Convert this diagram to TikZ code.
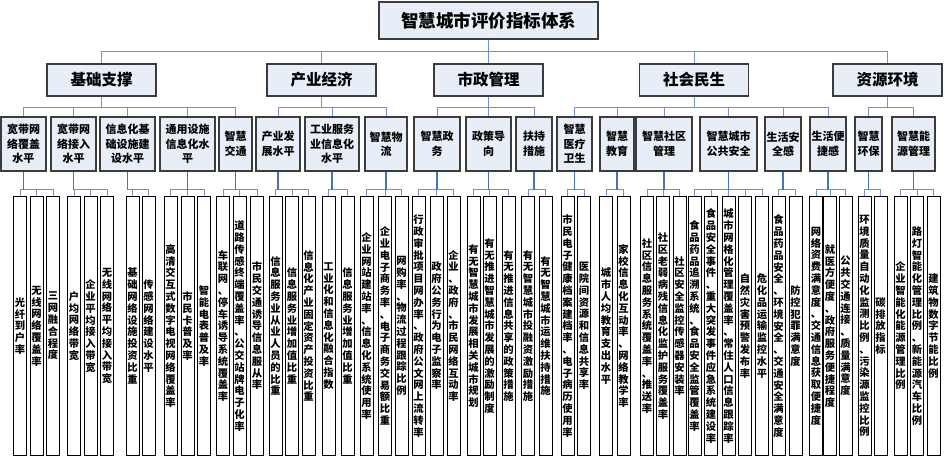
\documentclass[tikz,border=0pt]{standalone}
\usepackage{fontspec}
\newfontfamily\cjk{Noto Sans CJK SC}
\ExplSyntaxOn
\NewDocumentCommand\vt{m}{
  \seq_clear:N \l_tmpa_seq
  \tl_map_inline:nn {#1} { \seq_put_right:Nn \l_tmpa_seq {##1} }
  \seq_use:Nn \l_tmpa_seq {\\}
}
\ExplSyntaxOff
\definecolor{boxfill}{RGB}{232,238,247}
\definecolor{boxline}{RGB}{60,60,60}
\definecolor{conn}{RGB}{70,118,185}
\definecolor{connlight}{RGB}{105,150,210}
\tikzset{
  rootbox/.style={draw=boxline, fill=boxfill, line width=1.1pt, inner sep=0pt,
    minimum width=219pt, minimum height=37pt,
    font=\cjk\bfseries\fontsize{17.5}{20}\selectfont},
  lonebox/.style={draw=boxline, fill=boxfill, line width=1.1pt, inner sep=0pt,
    minimum width=109pt, minimum height=32pt,
    font=\cjk\bfseries\fontsize{15.5}{18}\selectfont},
  ltwobox/.style={draw=boxline, fill=boxfill, line width=1.1pt, inner sep=0pt,
    minimum height=54pt, align=center,
    font=\cjk\bfseries\fontsize{11}{14.5}\selectfont},
  leafbox/.style={draw=black, fill=white, line width=1pt, inner sep=0pt,
    minimum width=13pt, minimum height=258pt, align=center,
    font=\cjk\bfseries\fontsize{10.3}{11.8}\selectfont},
  thinconn/.style={draw=connlight, line width=0.9pt},
  trunk/.style={draw=conn, line width=1.6pt},
}
\begin{document}
\begin{tikzpicture}[x=1pt, y=-1pt]
\useasboundingbox (0,0) rectangle (945,457);
% root
\node[rootbox] (root) at (488.5,20.5) {智慧城市评价指标体系};
% level 1
\node[lonebox] (l1a) at (101.5,80) {基础支撑};
\node[lonebox] (l1b) at (321.5,80) {产业经济};
\node[lonebox] (l1c) at (488.5,80) {市政管理};
\node[lonebox] (l1d) at (694,80) {社会民生};
\node[lonebox] (l1e) at (887.5,80) {资源环境};
% level 2
\node[ltwobox, minimum width=45pt] (l2a) at (23.5,144) {宽带网\\络覆盖\\水平};
\node[ltwobox, minimum width=45pt] (l2b) at (73.5,144) {宽带网\\络接入\\水平};
\node[ltwobox, minimum width=55pt] (l2c) at (127.5,144) {信息化基\\础设施建\\设水平};
\node[ltwobox, minimum width=55pt] (l2d) at (187.5,144) {通用设施\\信息化水\\平};
\node[ltwobox, minimum width=33pt] (l2e) at (235.5,144) {智慧\\交通};
\node[ltwobox, minimum width=44pt] (l2f) at (278,144) {产业发\\展水平};
\node[ltwobox, minimum width=54pt] (l2g) at (332,144) {工业服务\\业信息化\\水平};
\node[ltwobox, minimum width=42pt] (l2h) at (386,144) {智慧物\\流};
\node[ltwobox, minimum width=46pt] (l2i) at (437,144) {智慧政\\务};
\node[ltwobox, minimum width=45pt] (l2j) at (488.5,144) {政策导\\向};
\node[ltwobox, minimum width=36pt] (l2k) at (534,144) {扶持\\措施};
\node[ltwobox, minimum width=35pt] (l2l) at (574.5,144) {智慧\\医疗\\卫生};
\node[ltwobox, minimum width=34pt] (l2m) at (617,144) {智慧\\教育};
\node[ltwobox, minimum width=56pt] (l2n) at (664,144) {智慧社区\\管理};
\node[ltwobox, minimum width=57pt] (l2o) at (728.5,144) {智慧城市\\公共安全};
\node[ltwobox, minimum width=36pt] (l2p) at (783,144) {生活安\\全感};
\node[ltwobox, minimum width=36pt] (l2q) at (828,144) {生活便\\捷感};
\node[ltwobox, minimum width=27pt] (l2r) at (868.5,144) {智慧\\环保};
\node[ltwobox, minimum width=43pt] (l2s) at (913.5,144) {智慧能\\源管理};
% leaves
\node[leafbox] (v1) at (20,326) {\vt{光纤到户率}};
\node[leafbox] (v2) at (36.5,326) {\vt{无线网络覆盖率}};
\node[leafbox] (v3) at (53,326) {\vt{三网融合程度}};
\node[leafbox] (v4) at (74,326) {\vt{户均网络带宽}};
\node[leafbox] (v5) at (90.5,326) {\vt{企业平均接入带宽}};
\node[leafbox] (v6) at (107,326) {\vt{无线网络平均接入带宽}};
\node[leafbox] (v7) at (132.5,326) {\vt{基础网络设施投资比重}};
\node[leafbox] (v8) at (148.5,326) {\vt{传感网络建设水平}};
\node[leafbox] (v9) at (170.5,326) {\vt{高清交互式数字电视网络覆盖率}};
\node[leafbox] (v10) at (187.5,326) {\vt{市民卡普及率}};
\node[leafbox] (v11) at (204,326) {\vt{智能电表普及率}};
\node[leafbox] (v12) at (223,326) {\vt{车联网、停车诱导系统覆盖率}};
\node[leafbox] (v13) at (239.5,326) {\vt{道路传感终端覆盖率、公交站牌电子化率}};
\node[leafbox] (v14) at (257,326) {\vt{市民交通诱导信息服从率}};
\node[leafbox] (v15) at (275.5,326) {\vt{信息服务业从业人员的比重}};
\node[leafbox] (v16) at (292,326) {\vt{信息服务业增加值比重}};
\node[leafbox] (v17) at (308.5,326) {\vt{信息化产业固定资产投资比重}};
\node[leafbox] (v18) at (328.5,326) {\vt{工业化和信息化融合指数}};
\node[leafbox] (v19) at (347.5,326) {\vt{信息服务业增加值比重}};
\node[leafbox] (v20) at (366.5,326) {\vt{企业网站建站率、信息化系统使用率}};
\node[leafbox] (v21) at (385,326) {\vt{企业电子商务率、电子商务交易额比重}};
\node[leafbox] (v22) at (401.5,326) {\vt{网购率、物流过程跟踪比例}};
\node[leafbox] (v23) at (418.5,326) {\vt{行政审批项目网办率、政府公文网上流转率}};
\node[leafbox] (v24) at (436.5,326) {\vt{政府公务行为电子监察率}};
\node[leafbox] (v25) at (453.5,326) {\vt{企业、政府、市民网络互动率}};
\node[leafbox] (v26) at (473.5,326) {\vt{有无智慧城市发展相关城市规划}};
\node[leafbox] (v27) at (489.5,326) {\vt{有无推进智慧城市发展的激励制度}};
\node[leafbox] (v28) at (508.5,326) {\vt{有无推进信息共享的政策措施}};
\node[leafbox] (v29) at (528,326) {\vt{有无智慧城市投融资激励措施}};
\node[leafbox] (v30) at (545.5,326) {\vt{有无智慧城市运维扶持措施}};
\node[leafbox] (v31) at (567.5,326) {\vt{市民电子健康档案建档率、电子病历使用率}};
\node[leafbox] (v32) at (584,326) {\vt{医院间资源和信息共享率}};
\node[leafbox] (v33) at (606,326) {\vt{城市人均教育支出水平}};
\node[leafbox] (v34) at (623.5,326) {\vt{家校信息化互动率、网络教学率}};
\node[leafbox] (v35) at (647,326) {\vt{社区信息服务系统覆盖率、推送率}};
\node[leafbox] (v36) at (663,326) {\vt{社区老弱病残信息化监护服务覆盖率}};
\node[leafbox] (v37) at (679.5,326) {\vt{社区安全监控传感器安装率}};
\node[leafbox] (v38) at (694.5,326) {\vt{食品药品追溯系统、食品安全监管覆盖率}};
\node[leafbox] (v39) at (711,326) {\vt{食品安全事件、重大突发事件应急系统建设率}};
\node[leafbox] (v40) at (728.5,326) {\vt{城市网格化管理覆盖率、常住人口信息跟踪率}};
\node[leafbox] (v41) at (745,326) {\vt{自然灾害预警发布率}};
\node[leafbox] (v42) at (762,326) {\vt{危化品运输监控水平}};
\node[leafbox] (v43) at (778.5,326) {\vt{食品药品安全、环境安全、交通安全满意度}};
\node[leafbox] (v44) at (795.5,326) {\vt{防控犯罪满意度}};
\node[leafbox] (v45) at (816,326) {\vt{网络资费满意度、交通信息获取便捷度}};
\node[leafbox] (v46) at (830,326) {\vt{就医方便度、政府服务便捷程度}};
\node[leafbox] (v47) at (845.5,326) {\vt{公共交通连接、质量满意度}};
\node[leafbox] (v48) at (864.5,326) {\vt{环境质量自动化监测比例、污染源监控比例}};
\node[leafbox] (v49) at (880.5,326) {\vt{碳排放指标}};
\node[leafbox] (v50) at (900.5,326) {\vt{企业智能化能源管理比例}};
\node[leafbox] (v51) at (917,326) {\vt{路灯智能化管理比例、新能源汽车比例}};
\node[leafbox] (v52) at (933.5,326) {\vt{建筑物数字节能比例}};
% connectors root -> level 1
\foreach \q in {a,b,c,d,e} {
  \draw[thinconn] (root.south) -- ++(0,12) -| (l1\q.north);
}
% level 1 -> level 2
\foreach \p/\cs in {a/{a,b,c,d,e}, b/{f,g,h}, c/{i,j,k}, d/{l,m,n,o,p,q}, e/{r,s}} {
  \foreach \q in \cs {
    \draw[thinconn] (l1\p.south) -- ++(0,11) -| (l2\q.north);
  }
}
% level 2 -> leaves
\foreach \p/\cs in {a/{1,2,3}, b/{4,5,6}, c/{7,8}, d/{9,10,11}, e/{12,13,14},
    f/{15,16,17}, g/{18,19}, h/{20,21,22}, i/{23,24,25}, j/{26,27,28},
    k/{29,30}, l/{31,32}, m/{33,34}, n/{35,36,37}, o/{38,39,40,41,42},
    p/{43,44}, q/{45,46,47}, r/{48,49}, s/{50,51,52}} {
  \foreach \c in \cs {
    \draw[thinconn] (l2\p.south) ++(0,18) -| (v\c.north);
  }
  \draw[trunk] (l2\p.south) -- ++(0,18);
}
\end{tikzpicture}
\end{document}
